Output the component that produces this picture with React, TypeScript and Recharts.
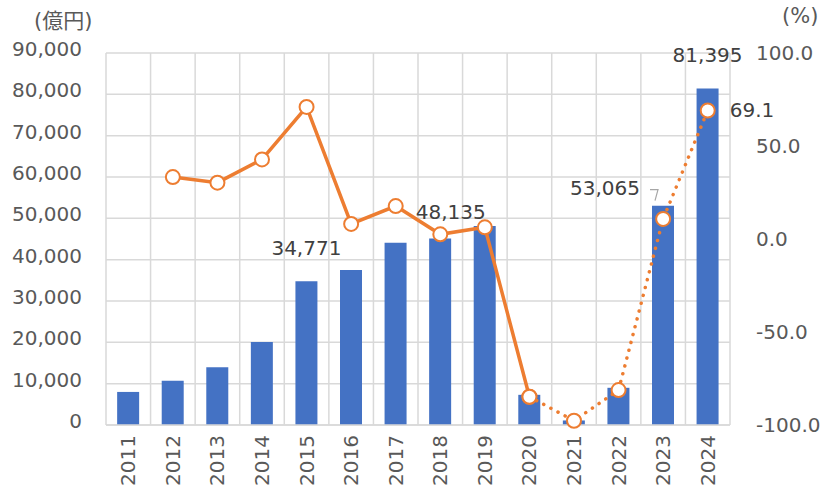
import React from 'react';
import { ComposedChart, Bar, Line, XAxis, YAxis, CartesianGrid, LabelList } from 'recharts';

// 年度
const years = ['2011', '2012', '2013', '2014', '2015', '2016', '2017', '2018', '2019', '2020', '2021', '2022', '2023', '2024'];
// 金額 (億円)
const amounts = [8000, 10700, 14000, 20100, 34771, 37500, 44100, 45100, 48135, 7300, 1100, 9000, 53065, 81395];
// 伸び率 (%) 2012-2020 は前年比、2020 以降は 2019 比 (点線)
const growthSolid = [null, 33.3, 30.3, 42.8, 71.0, 8.1, 17.7, 2.5, 6.3, -84.8, null, null, null, null];
const growthDotted = [null, null, null, null, null, null, null, null, null, -84.8, -97.7, -81.2, 10.8, 69.1];

const leftTicks = [0, 10000, 20000, 30000, 40000, 50000, 60000, 70000, 80000, 90000];
const rightTicks = [-100, -50, 0, 50, 100];

// 値ラベルを付ける棒 (index)
const labeledBars = [4, 8, 12, 13];
const labeledPoints = [13];

const BLUE = '#4472C4';
const ORANGE = '#ED7D31';
const GRID = '#D9D9D9';
const TICK = '#595959';
const LABEL = '#404040';
const FONT = '"DejaVu Sans", "Noto Sans CJK JP", sans-serif';

const data = years.map((year, i) => ({
  year,
  amount: amounts[i],
  solid: growthSolid[i],
  dotted: growthDotted[i],
}));

// label offsets relative to bar top-centre
const barLabelPos: Record<number, { dx: number; dy: number; leader?: boolean }> = {
  4: { dx: 0, dy: -33 },
  8: { dx: -34, dy: -14 },
  12: { dx: -58, dy: -18, leader: true },
  13: { dx: 0, dy: -34 },
};

const renderBarLabel = (props: any) => {
  const { x, y, width, value, index } = props;
  if (!labeledBars.includes(index)) return null;
  const pos = barLabelPos[index];
  const cx = x + width / 2 + pos.dx;
  const cy = y + pos.dy;
  return (
    <g key={`bl-${index}`}>
      <text x={cx} y={cy} dy="0.35em" textAnchor="middle" fill={LABEL} fontSize={20} fontFamily={FONT}>
        {Number(value).toLocaleString('en-US')}
      </text>
      {pos.leader && (
        <path
          d={`M${cx + 45},${cy + 2} L${cx + 53},${cy + 2} L${x + 3},${y - 5}`}
          stroke="#A6A6A6"
          strokeWidth={1.2}
          fill="none"
        />
      )}
    </g>
  );
};

const renderPointLabel = (props: any) => {
  const { x, y, value, index } = props;
  if (!labeledPoints.includes(index) || value == null) return null;
  return (
    <text key={`pl-${index}`} x={x + 22} y={y} dy="0.35em" textAnchor="start" fill={LABEL} fontSize={20} fontFamily={FONT}>
      {Number(value).toFixed(1)}
    </text>
  );
};

const YearTick = (props: any) => {
  const { x, y, payload } = props;
  return (
    <text
      x={x}
      y={y}
      dy="0.35em"
      textAnchor="end"
      transform={`rotate(-90, ${x}, ${y})`}
      fill={TICK}
      fontSize={20}
      fontFamily={FONT}
    >
      {payload.value}
    </text>
  );
};

const dotStyle = { r: 7, fill: '#FFFFFF', stroke: ORANGE, strokeWidth: 2, strokeDasharray: 'none' };

export default function App() {
  return (
    <div style={{ position: 'relative', width: 828, height: 495, fontFamily: FONT }}>
      <style>{'body{margin:0}'}</style>
      <ComposedChart width={828} height={495} data={data} margin={{ top: 53, right: 0, bottom: 0, left: 0 }} barCategoryGap="25%">
        <CartesianGrid
          yAxisId="left"
          stroke={GRID}
          strokeWidth={1.5}
          verticalCoordinatesGenerator={({ offset }: any) =>
            years.map((_, i) => offset.left + (i * offset.width) / years.length).concat(offset.left + offset.width)
          }
        />
        <XAxis
          dataKey="year"
          height={70}
          tick={<YearTick />}
          tickLine={false}
          tickSize={0}
          tickMargin={10}
          axisLine={{ stroke: GRID, strokeWidth: 1.5 }}
          interval={0}
        />
        <YAxis
          yAxisId="left"
          width={106}
          domain={[0, 90000]}
          ticks={leftTicks}
          tickFormatter={(v: number) => v.toLocaleString('en-US')}
          axisLine={false}
          tickLine={false}
          tickSize={0}
          tickMargin={24}
          tick={{ fill: TICK, fontSize: 20, fontFamily: FONT, dy: -4 }}
        />
        <YAxis
          yAxisId="right"
          orientation="right"
          width={98}
          domain={[-100, 100]}
          ticks={rightTicks}
          tickFormatter={(v: number) => v.toFixed(1)}
          axisLine={false}
          tickLine={false}
          tickSize={0}
          tickMargin={26}
          tick={{ fill: TICK, fontSize: 20, fontFamily: FONT, textAnchor: 'start' }}
        />
        <Bar yAxisId="left" dataKey="amount" fill={BLUE} isAnimationActive={false}>
          <LabelList dataKey="amount" content={renderBarLabel} />
        </Bar>
        <Line
          yAxisId="right"
          dataKey="dotted"
          stroke={ORANGE}
          strokeWidth={3.5}
          strokeDasharray="0.1 8"
          strokeLinecap="round"
          dot={dotStyle}
          activeDot={false}
          connectNulls={false}
          isAnimationActive={false}
        >
          <LabelList dataKey="dotted" content={renderPointLabel} />
        </Line>
        <Line
          yAxisId="right"
          dataKey="solid"
          stroke={ORANGE}
          strokeWidth={3.5}
          dot={dotStyle}
          activeDot={false}
          connectNulls={false}
          isAnimationActive={false}
        />
      </ComposedChart>
      <span style={{ position: 'absolute', left: 34, top: 4, fontSize: 21, color: TICK, whiteSpace: 'nowrap' }}>(億円)</span>
      <span style={{ position: 'absolute', left: 782, top: 4, fontSize: 21, color: TICK, whiteSpace: 'nowrap' }}>(%)</span>
    </div>
  );
}
